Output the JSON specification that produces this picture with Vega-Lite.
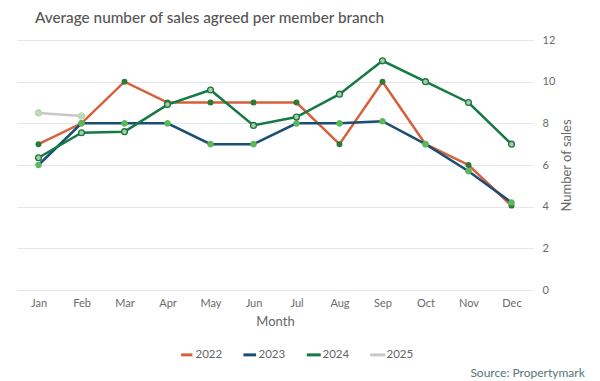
{
  "$schema": "https://vega.github.io/schema/vega-lite/v6.json",
  "padding": {"left": 17, "top": 10, "right": 5, "bottom": 2},
  "title": {"text": "Average number of sales agreed per member branch", "anchor": "start", "dx": 18, "fontSize": 15.3, "font": "Lato", "fontWeight": 500, "color": "#555555", "offset": 8},
  "datasets": {
    "sales": [
      {"month": "Jan", "year": "2022", "value": 7},
      {"month": "Feb", "year": "2022", "value": 8},
      {"month": "Mar", "year": "2022", "value": 10},
      {"month": "Apr", "year": "2022", "value": 9},
      {"month": "May", "year": "2022", "value": 9},
      {"month": "Jun", "year": "2022", "value": 9},
      {"month": "Jul", "year": "2022", "value": 9},
      {"month": "Aug", "year": "2022", "value": 7},
      {"month": "Sep", "year": "2022", "value": 10},
      {"month": "Oct", "year": "2022", "value": 7},
      {"month": "Nov", "year": "2022", "value": 6},
      {"month": "Dec", "year": "2022", "value": 4.05},
      {"month": "Jan", "year": "2023", "value": 6},
      {"month": "Feb", "year": "2023", "value": 8},
      {"month": "Mar", "year": "2023", "value": 8},
      {"month": "Apr", "year": "2023", "value": 8},
      {"month": "May", "year": "2023", "value": 7},
      {"month": "Jun", "year": "2023", "value": 7},
      {"month": "Jul", "year": "2023", "value": 8},
      {"month": "Aug", "year": "2023", "value": 8},
      {"month": "Sep", "year": "2023", "value": 8.1},
      {"month": "Oct", "year": "2023", "value": 7},
      {"month": "Nov", "year": "2023", "value": 5.7},
      {"month": "Dec", "year": "2023", "value": 4.2},
      {"month": "Jan", "year": "2024", "value": 6.35},
      {"month": "Feb", "year": "2024", "value": 7.55},
      {"month": "Mar", "year": "2024", "value": 7.6},
      {"month": "Apr", "year": "2024", "value": 8.9},
      {"month": "May", "year": "2024", "value": 9.6},
      {"month": "Jun", "year": "2024", "value": 7.9},
      {"month": "Jul", "year": "2024", "value": 8.3},
      {"month": "Aug", "year": "2024", "value": 9.4},
      {"month": "Sep", "year": "2024", "value": 11},
      {"month": "Oct", "year": "2024", "value": 10},
      {"month": "Nov", "year": "2024", "value": 9},
      {"month": "Dec", "year": "2024", "value": 7},
      {"month": "Jan", "year": "2025", "value": 8.5},
      {"month": "Feb", "year": "2025", "value": 8.35}
    ]
  },
  "vconcat": [
    {
      "width": 516,
      "height": 250,
      "title": {"text": "Source: Propertymark", "orient": "bottom", "anchor": "end", "dx": 11, "fontSize": 12, "font": "Lato", "fontWeight": "normal", "color": "#557575", "offset": 40},
      "data": {"name": "sales"},
      "encoding": {
        "x": {"field": "month", "type": "ordinal", "sort": ["Jan","Feb","Mar","Apr","May","Jun","Jul","Aug","Sep","Oct","Nov","Dec"],
              "scale": {"type": "point", "padding": 0.5},
              "axis": {"title": "Month", "labelAngle": 0, "ticks": false, "domain": false, "grid": false, "labelPadding": 7, "titlePadding": 7}},
        "y": {"field": "value", "type": "quantitative", "scale": {"domain": [0, 12], "nice": false},
              "axis": {"orient": "right", "title": "Number of sales", "titleAngle": 270, "values": [0,2,4,6,8,10,12], "ticks": false, "domain": false, "grid": true, "labelPadding": 9, "titlePadding": 19}}
      },
      "layer": [
        {
          "mark": {"type": "line", "strokeWidth": 2.5},
          "encoding": {
            "color": {"field": "year", "type": "nominal",
                      "scale": {"domain": ["2022","2023","2024","2025"], "range": ["#d6603b","#1a4e73","#147a46","#c8c8c8"]},
                      "legend": {"orient": "none", "legendX": 164, "legendY": 309, "direction": "horizontal", "title": null, "symbolType": "M-2.4,0H2.4", "symbolStrokeWidth": 3, "labelFontSize": 11.5, "labelColor": "#666666", "labelFont": "Lato", "columnPadding": 14, "labelOffset": 3}}
          }
        },
        {
          "mark": {"type": "circle", "opacity": 1, "strokeWidth": 1.3},
          "encoding": {
            "fill": {"field": "year", "type": "nominal", "legend": null,
                     "scale": {"domain": ["2022","2023","2024","2025"], "range": ["#2e7a38","#5bb85a","#a9cca3","#bcdab4"]}},
            "stroke": {"field": "year", "type": "nominal", "legend": null,
                       "scale": {"domain": ["2022","2023","2024","2025"], "range": ["#2e7a38","#5bb85a","#1b7543","#bcdab4"]}},
            "size": {"field": "year", "type": "ordinal", "legend": null,
                     "scale": {"domain": ["2022","2023","2024","2025"], "range": [22, 40, 48, 48]}}
          }
        }
      ]
    }
  ],
  "config": {
    "view": {"stroke": null},
    "font": "Lato",
    "axis": {"labelFont": "Lato", "titleFont": "Lato", "labelFontSize": 11, "titleFontSize": 13, "labelColor": "#6a6a6a", "titleColor": "#666666", "titleFontWeight": "normal", "gridColor": "#e6e6e6"}
  }
}
